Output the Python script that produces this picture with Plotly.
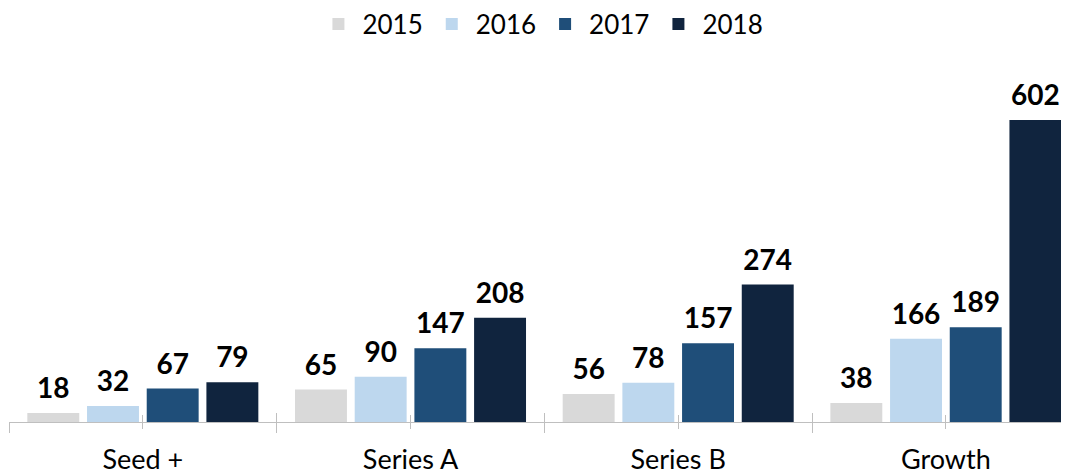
import plotly.graph_objects as go

categories = ["Seed +", "Series A", "Series B", "Growth"]
years = ["2015", "2016", "2017", "2018"]
values_2015 = [18, 65, 56, 38]
values_2016 = [32, 90, 78, 166]
values_2017 = [67, 147, 157, 189]
values_2018 = [79, 208, 274, 602]
series_values = [values_2015, values_2016, values_2017, values_2018]
colors = ["#d9d9d9", "#bdd7ee", "#1f4e79", "#10243e"]

FONT = "Lato"
BARGAP = 0.108
BARGROUPGAP = 0.13
AXIS_GREY = "#bfbfbf"

fig = go.Figure()
for name, vals, col in zip(years, series_values, colors):
    fig.add_trace(go.Bar(
        x=categories, y=vals, name=name,
        marker=dict(color=col, line=dict(width=0)),
        hoverinfo="skip",
    ))
# value labels, grouped like the bars
for name, vals in zip(years, series_values):
    fig.add_trace(go.Scatter(
        x=categories, y=vals, mode="markers+text", text=[str(v) for v in vals],
        textposition="top center", showlegend=False, cliponaxis=False,
        marker=dict(size=11, opacity=0),
        textfont=dict(family=FONT, size=28, color="#000000", weight="bold"),
        hoverinfo="skip",
    ))
# empty traces so the overlay tick axes are drawn
for ax in ["x2", "x3", "x4"]:
    fig.add_trace(go.Scatter(x=[], y=[], xaxis=ax, yaxis="y", showlegend=False,
                             hoverinfo="skip"))

xr = [-0.5, 3.46]
axis_common = dict(type="category", categoryorder="array", categoryarray=categories,
                   range=xr, showgrid=False, zeroline=False, fixedrange=True,
                   tickcolor=AXIS_GREY, tickwidth=1)

fig.update_layout(
    width=1069, height=476,
    margin=dict(l=1, r=8, t=52, b=62),
    paper_bgcolor="white", plot_bgcolor="white",
    barmode="group", bargap=BARGAP, bargroupgap=BARGROUPGAP,
    scattermode="group", scattergap=BARGAP,
    font=dict(family=FONT, size=26, color="#000000"),
    showlegend=True,
    legend=dict(orientation="h", x=0.499, xanchor="center", xref="container",
                y=1 - 16 / 476, yanchor="middle", yref="container",
                font=dict(family=FONT, size=26, color="#000000"),
                itemwidth=38, traceorder="normal"),
    xaxis=dict(**axis_common, showline=True, linecolor=AXIS_GREY, linewidth=1,
               ticks="outside", ticklen=10, tickson="boundaries",
               ticklabelstandoff=14,
               tickfont=dict(family=FONT, size=27, color="#000000")),
    xaxis2=dict(**axis_common, overlaying="x", anchor="y", side="bottom",
                showline=False, ticks="inside", ticklen=9, tickson="boundaries",
                showticklabels=False),
    xaxis3=dict(**axis_common, overlaying="x", anchor="y", side="bottom",
                showline=False, ticks="outside", ticklen=6, tickson="labels",
                showticklabels=False),
    xaxis4=dict(**axis_common, overlaying="x", anchor="y", side="bottom",
                showline=False, ticks="inside", ticklen=7, tickson="labels",
                showticklabels=False),
    yaxis=dict(range=[0, 721.6], visible=False, showgrid=False, zeroline=False,
               fixedrange=True),
)

fig.write_html("out.html")
